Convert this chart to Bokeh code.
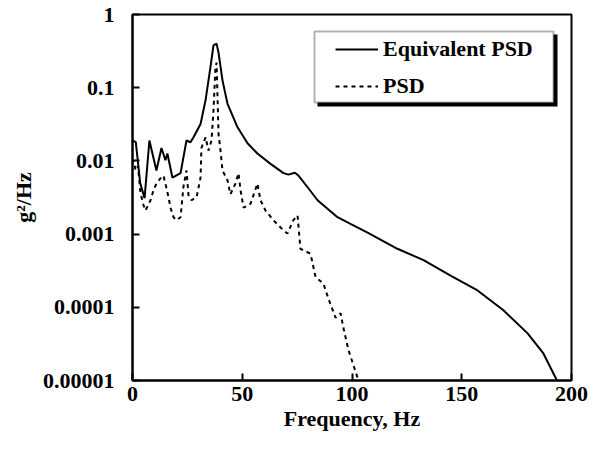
from bokeh.plotting import figure
from bokeh.models import (Range1d, FixedTicker, Legend, LegendItem, BoxAnnotation,
                          ColumnDataSource)
from bokeh.embed import file_html
from bokeh.resources import INLINE

# ---- data ----
eq_freq = [0, 1.5, 3.5, 5.5, 7.7, 10.9, 13.2, 15.0, 15.9, 18.2, 21.9, 24.6, 26.4, 27.8,
           31.0, 33.3, 35.5, 36.9, 38.3, 39.2, 41.0, 43.3, 47.8, 52.4, 56.9, 62.9, 68.8,
           71.0, 74.0, 75.6, 79.7, 84.3, 93.4, 99.3, 107.1, 120.7, 132.6, 144.9, 157.2,
           169.0, 180.0, 187.2, 192.7, 193.3]
eq_psd = [0.019, 0.018, 0.005, 0.0031, 0.019, 0.0074, 0.015, 0.0102, 0.0126, 0.0059,
          0.0068, 0.019, 0.018, 0.021, 0.032, 0.068, 0.19, 0.38, 0.40, 0.30, 0.126,
          0.060, 0.029, 0.0174, 0.0126, 0.0091, 0.0068, 0.0065, 0.0069, 0.0063, 0.0044,
          0.0029, 0.0017, 0.00138, 0.00105, 0.00063, 0.00044, 0.00027, 0.00017,
          0.000091, 0.000044, 0.0000234, 0.000011, 0.00001]

psd_freq = [0.0, 0.5, 1.4, 2.5, 3.6, 5.0, 5.9, 8.2, 9.6, 10.9, 12.8, 14.1, 15.0, 16.4,
            17.3, 18.7, 20.0, 21.9, 23.2, 24.6, 25.5, 26.9, 29.2, 31.0, 31.4, 33.3, 34.6,
            36.0, 36.9, 37.8, 38.3, 39.2, 40.1, 41.0, 43.3, 44.6, 46.9, 48.3, 49.2, 50.6,
            53.8, 56.9, 58.3, 60.6, 64.2, 68.8, 70.6, 73.3, 75.2, 76.5, 81.1, 83.4, 87.0,
            89.3, 92.5, 94.8, 96.1, 98.4, 100.7, 102.5, 103.5]
psd_val = [0.0095, 0.0102, 0.0074, 0.0085, 0.0037, 0.0025, 0.0021, 0.0029, 0.0040,
           0.0049, 0.0058, 0.0063, 0.0049, 0.0032, 0.0023, 0.0017, 0.00155, 0.0017,
           0.0044, 0.0074, 0.0034, 0.0029, 0.0032, 0.0059, 0.015, 0.021, 0.0138, 0.019,
           0.049, 0.19, 0.22, 0.023, 0.0138, 0.0074, 0.0054, 0.0035, 0.0049, 0.0068,
           0.0040, 0.0023, 0.0026, 0.0049, 0.0029, 0.0021, 0.00155, 0.00112, 0.00102,
           0.00155, 0.0018, 0.00063, 0.00054, 0.00026, 0.00021, 0.00013, 0.000072,
           0.000083, 0.000052, 0.000026, 0.000016, 0.000011, 0.00001]

x_ticks = [0, 50, 100, 150, 200]
y_ticks = [0.00001, 0.0001, 0.001, 0.01, 0.1, 1]
y_tick_labels = ["0.00001", "0.0001", "0.001", "0.01", "0.1", "1"]

FONT = "Liberation Serif"
FS = "22px"

p = figure(width=588, height=452, output_backend="svg", toolbar_location=None,
           y_axis_type="log", x_range=Range1d(0, 200), y_range=Range1d(1e-5, 1),
           min_border_left=132, min_border_right=17, min_border_top=14,
           min_border_bottom=72)
p.background_fill_color = "white"
p.border_fill_color = "white"
p.outline_line_color = "black"
p.outline_line_width = 2
p.xgrid.visible = False
p.ygrid.visible = False

for ax in (p.xaxis[0], p.yaxis[0]):
    ax.axis_line_width = 2
    ax.axis_line_color = "black"
    ax.major_tick_in = 7
    ax.major_tick_out = 0
    ax.major_tick_line_width = 2
    ax.minor_tick_in = 0
    ax.minor_tick_out = 0
    ax.major_label_text_font = FONT
    ax.major_label_text_font_style = "bold"
    ax.major_label_text_font_size = FS
    ax.major_label_text_color = "black"
    ax.axis_label_text_font = FONT
    ax.axis_label_text_font_style = "bold"
    ax.axis_label_text_font_size = FS
    ax.axis_label_text_color = "black"

p.xaxis.ticker = FixedTicker(ticks=x_ticks)
p.xaxis.major_label_standoff = 6
p.xaxis.axis_label = "Frequency, Hz"
p.xaxis.axis_label_standoff = 2

p.yaxis.ticker = FixedTicker(ticks=y_ticks)
p.yaxis.major_label_overrides = {v: l for v, l in zip(y_ticks, y_tick_labels)}
p.yaxis.major_label_standoff = 18
p.yaxis.axis_label = "g²/Hz"
p.yaxis.axis_label_standoff = 4

src_eq = ColumnDataSource(dict(f=eq_freq, v=eq_psd))
src_psd = ColumnDataSource(dict(f=psd_freq, v=psd_val))
r_eq = p.line("f", "v", source=src_eq, line_color="black", line_width=2)
r_psd = p.line("f", "v", source=src_psd, line_color="black", line_width=2,
               line_dash="4 4")

# legend box with drop shadow
shadow = BoxAnnotation(left=317, right=557, top=34, bottom=106,
                       left_units="canvas", right_units="canvas",
                       top_units="canvas", bottom_units="canvas",
                       fill_color="black", fill_alpha=1, line_color=None)
box = BoxAnnotation(left=314, right=553, top=31, bottom=102,
                    left_units="canvas", right_units="canvas",
                    top_units="canvas", bottom_units="canvas",
                    fill_color="white", fill_alpha=1, line_color="black",
                    line_width=2)
p.add_layout(shadow)
p.add_layout(box)

legend = Legend(items=[LegendItem(label="Equivalent PSD", renderers=[r_eq]),
                       LegendItem(label="PSD", renderers=[r_psd])],
                location=(203, 281), padding=0, spacing=11,
                label_height=24, glyph_height=24, glyph_width=43,
                label_standoff=5, border_line_color=None,
                background_fill_alpha=0,
                label_text_font=FONT, label_text_font_style="bold",
                label_text_font_size=FS, label_text_color="black")
p.add_layout(legend)

open("out.html", "w").write(file_html(p, INLINE))
